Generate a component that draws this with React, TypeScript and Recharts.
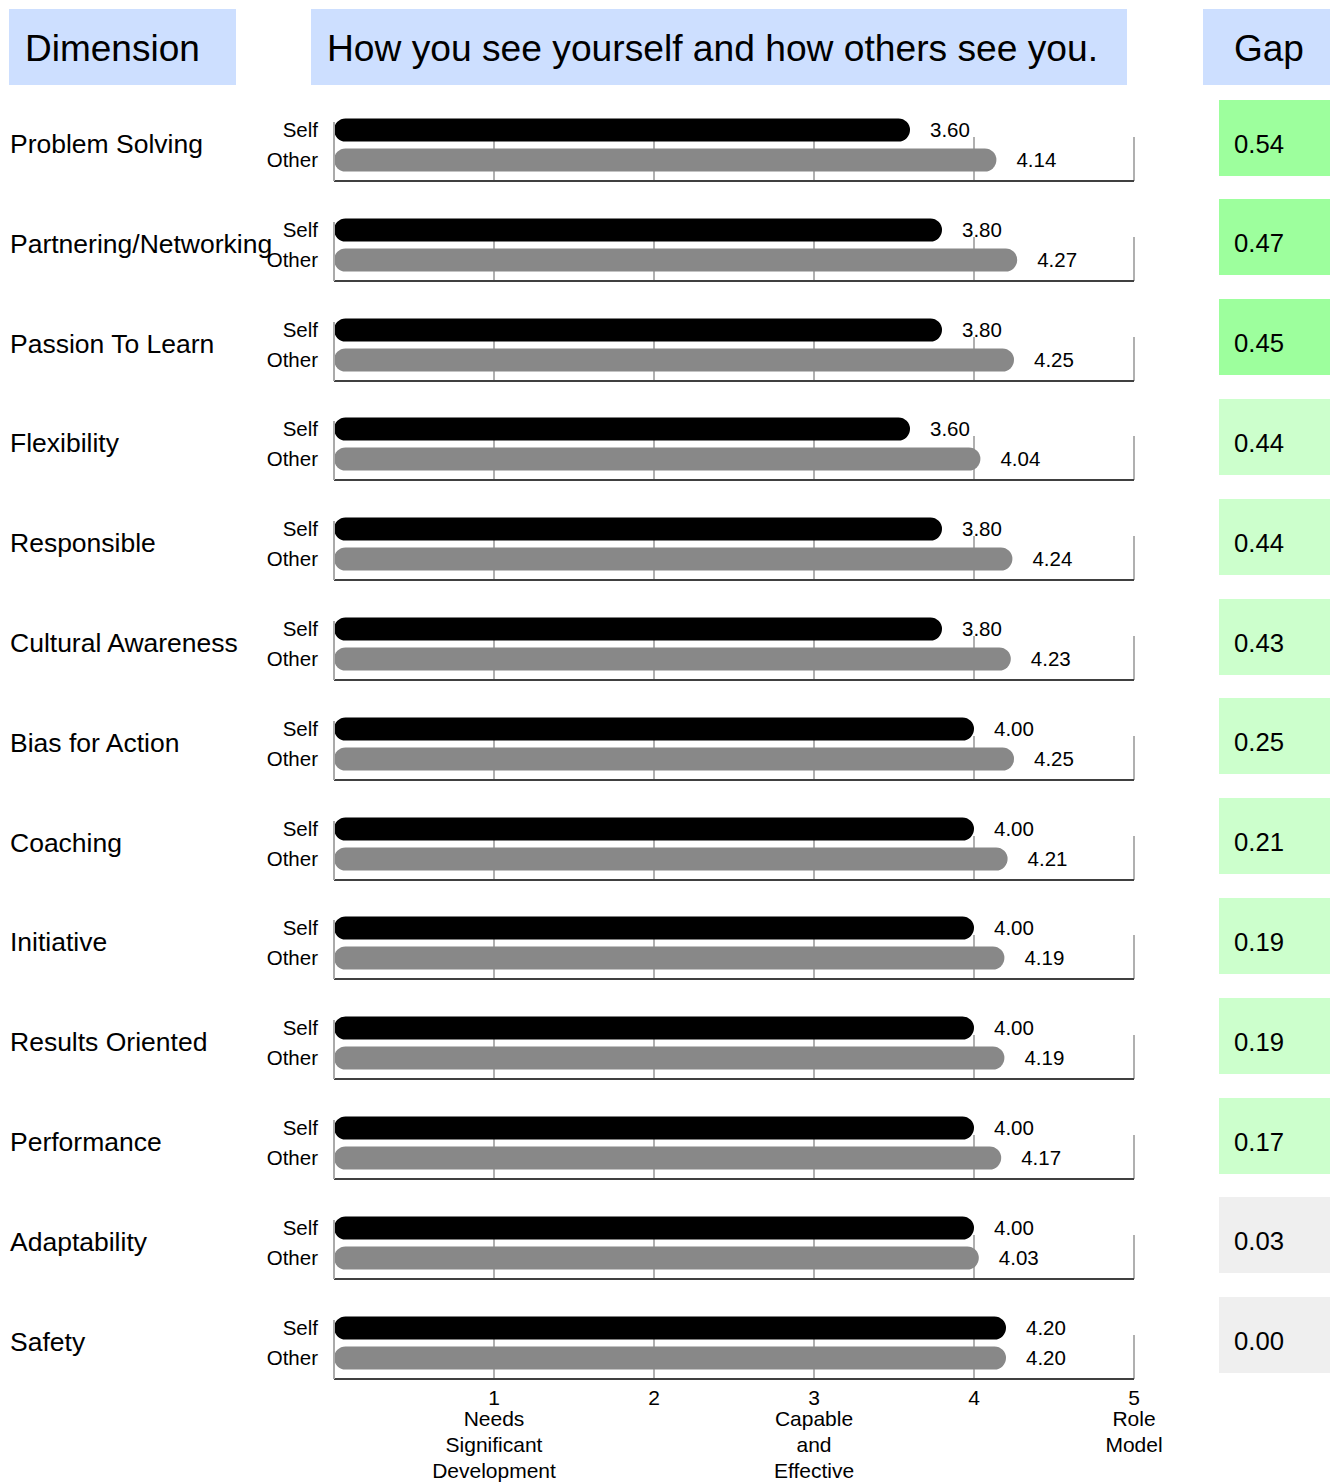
import React from 'react';
import { BarChart, Bar, XAxis, YAxis, CartesianGrid, Cell, LabelList } from 'recharts';

const dimensions = [
  'Problem Solving',
  'Partnering/Networking',
  'Passion To Learn',
  'Flexibility',
  'Responsible',
  'Cultural Awareness',
  'Bias for Action',
  'Coaching',
  'Initiative',
  'Results Oriented',
  'Performance',
  'Adaptability',
  'Safety',
];
const selfScores = [3.6, 3.8, 3.8, 3.6, 3.8, 3.8, 4.0, 4.0, 4.0, 4.0, 4.0, 4.0, 4.2];
const otherScores = [4.14, 4.27, 4.25, 4.04, 4.24, 4.23, 4.25, 4.21, 4.19, 4.19, 4.17, 4.03, 4.2];
const gapValues = [0.54, 0.47, 0.45, 0.44, 0.44, 0.43, 0.25, 0.21, 0.19, 0.19, 0.17, 0.03, 0.0];
const seriesNames = ['Self', 'Other'];
const seriesColors = ['#000000', '#888888'];
const xTicks = [1, 2, 3, 4, 5];
const xTickCaptions = [
  ['Needs', 'Significant', 'Development'],
  [],
  ['Capable', 'and', 'Effective'],
  [],
  ['Role', 'Model'],
];
const headerTitles = ['Dimension', 'How you see yourself and how others see you.', 'Gap'];

const FONT = '"Liberation Sans", Arial, Helvetica, sans-serif';
const ROW_PITCH = 99.8;
const FIRST_ROW_TOP = 100;

const gapColor = (v: number) => (v >= 0.45 ? '#9dff9d' : v >= 0.1 ? '#ccffcc' : '#efefef');

const BottomTick = (props: any) => {
  const { x, y, payload } = props;
  const idx = xTicks.indexOf(payload.value);
  const captions = xTickCaptions[idx] || [];
  return (
    <g>
      <text x={x} y={y + 25.5} textAnchor="middle" fontSize={21} fontFamily={FONT} fill="#000">
        {payload.value}
      </text>
      {captions.map((c, i) => (
        <text key={i} x={x} y={y + 46.5 + i * 26} textAnchor="middle" fontSize={21} fontFamily={FONT} fill="#000">
          {c}
        </text>
      ))}
    </g>
  );
};

const EmptyTick = () => <g />;

function RowChart({ index }: { index: number }) {
  const isLast = index === dimensions.length - 1;
  const data = seriesNames.map((name, i) => ({
    name,
    value: i === 0 ? selfScores[index] : otherScores[index],
  }));
  const height = isLast ? 184 : 100;
  const top = FIRST_ROW_TOP + index * ROW_PITCH;
  return (
    <div style={{ position: 'absolute', left: 0, top, width: 1200, height }}>
      <BarChart
        layout="vertical"
        width={1200}
        height={height}
        data={data}
        margin={{ top: 22, right: 66, bottom: isLast ? 0 : 18, left: 0 }}
        barCategoryGap={0}
      >
        <XAxis
          type="number"
          domain={[0, 5]}
          ticks={xTicks}
          interval={0}
          allowDataOverflow
          axisLine={{ stroke: '#404040', strokeWidth: 2 }}
          tickLine={false}
          tickSize={0}
          tickMargin={0}
          tick={isLast ? <BottomTick /> : <EmptyTick />}
          height={isLast ? 103 : 1}
        />
        <YAxis
          type="category"
          dataKey="name"
          width={334}
          interval={0}
          axisLine={{ stroke: '#aaaaaa', strokeWidth: 2 }}
          tickLine={false}
          tickSize={0}
          tickMargin={16}
          tick={{ fill: '#000', fontSize: 20.5, fontFamily: FONT }}
          padding={{ top: -7.5, bottom: 6.5 }}
        />
        <Bar dataKey="value" barSize={23} radius={12} isAnimationActive={false}>
          {data.map((d, i) => (
            <Cell key={d.name} fill={seriesColors[i]} />
          ))}
          <LabelList
            dataKey="value"
            position="right"
            offset={20}
            fill="#000"
            fontSize={20.5}
            fontFamily={FONT}
            formatter={(v: any) => Number(v).toFixed(2)}
          />
        </Bar>
        <CartesianGrid horizontal={false} vertical stroke="#b0b0b0" strokeWidth={2} y={37} height={44} />
      </BarChart>
    </div>
  );
}

export default function App() {
  return (
    <div
      style={{
        position: 'absolute',
        left: 0,
        top: 0,
        width: 1330,
        height: 1482,
        overflow: 'hidden',
        background: '#fff',
        fontFamily: FONT,
        color: '#000',
      }}
    >
      {[
        { left: 9, width: 227, pad: 16 },
        { left: 311, width: 816, pad: 16 },
        { left: 1203, width: 127, pad: 31 },
      ].map((h, i) => (
        <div
          key={i}
          style={{
            position: 'absolute',
            left: h.left,
            top: 9,
            width: h.width,
            height: 76,
            background: '#cddfff',
            boxSizing: 'border-box',
            paddingLeft: h.pad,
            fontSize: i === 1 ? 37.2 : 37,
            lineHeight: '79px',
            whiteSpace: 'nowrap',
          }}
        >
          {headerTitles[i]}
        </div>
      ))}

      {dimensions.map((d, i) => (
        <RowChart key={d} index={i} />
      ))}

      {dimensions.map((d, i) => {
        const top = FIRST_ROW_TOP + i * ROW_PITCH;
        return (
          <div
            key={'lbl' + d}
            style={{
              position: 'absolute',
              left: 10,
              top: top + 29,
              height: 30,
              lineHeight: '30px',
              fontSize: 26.5,
              whiteSpace: 'nowrap',
            }}
          >
            {d}
          </div>
        );
      })}

      {gapValues.map((g, i) => {
        const top = FIRST_ROW_TOP + i * ROW_PITCH;
        return (
          <div
            key={'gap' + i}
            style={{
              position: 'absolute',
              left: 1219,
              top: top - 0.5,
              width: 111,
              height: 76,
              background: gapColor(g),
            }}
          >
            <div
              style={{
                position: 'absolute',
                left: 15,
                top: 29,
                height: 30,
                lineHeight: '30px',
                fontSize: 25.7,
                whiteSpace: 'nowrap',
              }}
            >
              {g.toFixed(2)}
            </div>
          </div>
        );
      })}
    </div>
  );
}
